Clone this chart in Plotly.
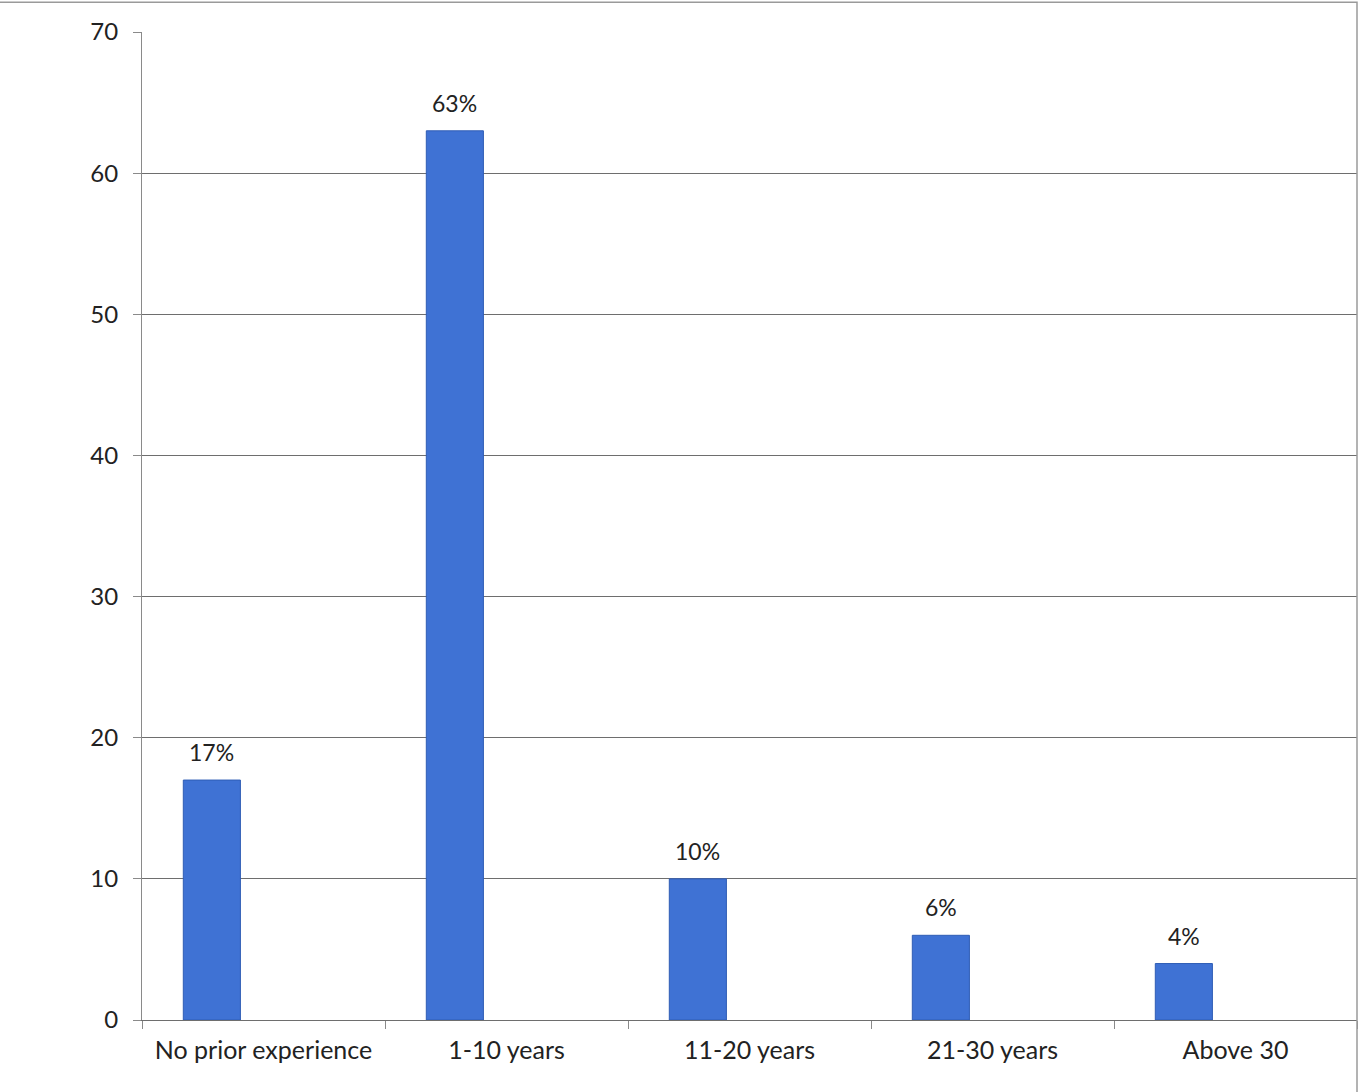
import plotly.graph_objects as go

categories = ["No prior experience", "1-10 years", "11-20 years", "21-30 years", "Above 30"]
values = [17, 63, 10, 6, 4]
labels = ["17%", "63%", "10%", "6%", "4%"]

bar_width = 0.235
bar_offset = -0.33

fig = go.Figure(go.Bar(
    x=categories, y=values,
    width=bar_width, offset=bar_offset,
    marker=dict(color="#3F72D4", line=dict(color="#2F5DB5", width=1)),
    cliponaxis=False,
))

annotations = [
    dict(x=i, y=v, xref="x", yref="y", text=t, showarrow=False,
         xshift=(bar_offset + bar_width / 2) * 243, yshift=28,
         font=dict(size=23, color="#222222"))
    for i, (v, t) in enumerate(zip(values, labels))
]

fig.update_layout(
    width=1369, height=1092,
    margin=dict(l=142, r=12, t=32, b=72),
    paper_bgcolor="white", plot_bgcolor="white",
    font=dict(family="Lato, Open Sans, sans-serif", size=24, color="#222222"),
    showlegend=False,
    annotations=annotations,
    yaxis=dict(range=[0, 70], dtick=10, showgrid=True, gridcolor="#6E6E6E", gridwidth=1,
               showline=True, linecolor="#8A8A8A", ticks="outside", ticklen=8,
               tickcolor="#8A8A8A", zeroline=False, tickfont=dict(size=24),
               ticklabelstandoff=10),
    xaxis=dict(showline=True, linecolor="#6E6E6E", ticks="outside", ticklen=8,
               tickcolor="#8A8A8A", tickson="boundaries", tickfont=dict(size=25),
               ticklabelstandoff=8),
    shapes=[dict(type="rect", xref="paper", yref="paper", x0=-0.123, x1=1.0, y0=-0.075, y1=1.03,
                 line=dict(color="#9A9A9A", width=1.5))],
)

fig.write_html("out.html")
